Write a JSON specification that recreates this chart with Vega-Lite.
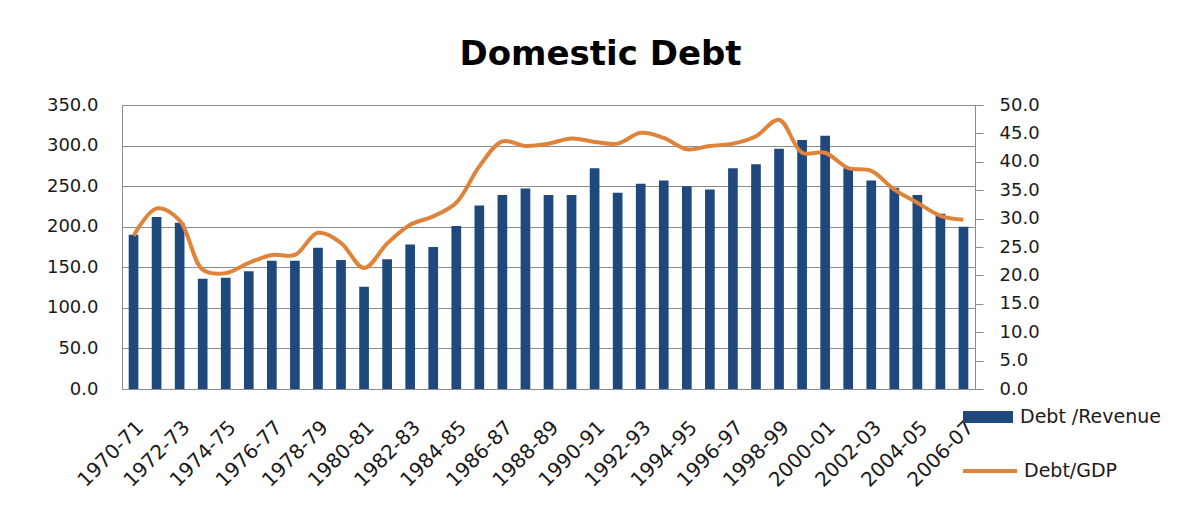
{
  "$schema": "https://vega.github.io/schema/vega-lite/v6.json",
  "autosize": {"type": "none"},
  "width": 853,
  "height": 284,
  "padding": {"left": 122, "top": 105, "right": 209, "bottom": 117},
  "background": "white",
  "title": {
    "text": "Domestic Debt",
    "font": "DejaVu Sans",
    "fontSize": 34,
    "fontWeight": "bold",
    "color": "#000000",
    "anchor": "middle",
    "offset": 24,
    "dx": 52
  },
  "config": {
    "view": {"stroke": "#8c8c8c", "strokeWidth": 1},
    "font": "DejaVu Sans",
    "axis": {
      "labelFont": "DejaVu Sans",
      "labelColor": "#1a1a1a",
      "labelFontSize": 18,
      "domainColor": "#8c8c8c",
      "tickColor": "#8c8c8c",
      "gridColor": "#8c8c8c",
      "title": null
    },
    "legend": {"padding": 0, "labelFont": "DejaVu Sans", "labelFontSize": 19, "labelColor": "#1a1a1a"}
  },
  "data": {
    "values": [
      {"year": "1970-71", "rev": 190, "gdp": 27.0},
      {"year": "1971-72", "rev": 212, "gdp": 31.8},
      {"year": "1972-73", "rev": 205, "gdp": 29.7},
      {"year": "1973-74", "rev": 136, "gdp": 21.0},
      {"year": "1974-75", "rev": 137, "gdp": 20.4},
      {"year": "1975-76", "rev": 145, "gdp": 22.2},
      {"year": "1976-77", "rev": 158, "gdp": 23.6},
      {"year": "1977-78", "rev": 158, "gdp": 23.6},
      {"year": "1978-79", "rev": 174, "gdp": 27.5},
      {"year": "1979-80", "rev": 159, "gdp": 25.7},
      {"year": "1980-81", "rev": 126, "gdp": 21.3},
      {"year": "1981-82", "rev": 160, "gdp": 25.6},
      {"year": "1982-83", "rev": 178, "gdp": 28.9},
      {"year": "1983-84", "rev": 175, "gdp": 30.4},
      {"year": "1984-85", "rev": 201, "gdp": 32.8},
      {"year": "1985-86", "rev": 226, "gdp": 39.2},
      {"year": "1986-87", "rev": 239, "gdp": 43.6},
      {"year": "1987-88", "rev": 247, "gdp": 42.8},
      {"year": "1988-89", "rev": 239, "gdp": 43.2},
      {"year": "1989-90", "rev": 239, "gdp": 44.1},
      {"year": "1990-91", "rev": 272, "gdp": 43.5},
      {"year": "1991-92", "rev": 242, "gdp": 43.2},
      {"year": "1992-93", "rev": 253, "gdp": 45.1},
      {"year": "1993-94", "rev": 257, "gdp": 44.2},
      {"year": "1994-95", "rev": 250, "gdp": 42.2},
      {"year": "1995-96", "rev": 246, "gdp": 42.8},
      {"year": "1996-97", "rev": 272, "gdp": 43.2},
      {"year": "1997-98", "rev": 277, "gdp": 44.5},
      {"year": "1998-99", "rev": 296, "gdp": 47.4},
      {"year": "1999-00", "rev": 307, "gdp": 41.6},
      {"year": "2000-01", "rev": 312, "gdp": 41.6},
      {"year": "2001-02", "rev": 272, "gdp": 38.9},
      {"year": "2002-03", "rev": 257, "gdp": 38.4},
      {"year": "2003-04", "rev": 248, "gdp": 35.1},
      {"year": "2004-05", "rev": 239, "gdp": 32.8},
      {"year": "2005-06", "rev": 216, "gdp": 30.5},
      {"year": "2006-07", "rev": 200, "gdp": 29.8}
    ]
  },
  "encoding": {
    "x": {
      "field": "year",
      "type": "nominal",
      "sort": null,
      "scale": {"paddingInner": 0.58, "paddingOuter": 0.29},
      "axis": {
        "labelAngle": -45,
        "labelFontSize": 20,
        "ticks": false,
        "labelPadding": 28,
        "values": ["1970-71","1972-73","1974-75","1976-77","1978-79","1980-81","1982-83","1984-85","1986-87","1988-89","1990-91","1992-93","1994-95","1996-97","1998-99","2000-01","2002-03","2004-05","2006-07"]
      }
    }
  },
  "layer": [
    {
      "mark": {"type": "bar"},
      "encoding": {
        "y": {
          "field": "rev",
          "type": "quantitative",
          "scale": {"domain": [0, 350], "nice": false},
          "axis": {
            "orient": "left",
            "values": [0, 50, 100, 150, 200, 250, 300, 350],
            "format": ".1f",
            "ticks": false,
            "labelPadding": 24,
            "grid": true
          }
        },
        "fill": {
          "datum": "Debt /Revenue",
          "type": "nominal",
          "scale": {"domain": ["Debt /Revenue"], "range": ["#1F497D"]},
          "legend": {
            "orient": "none",
            "legendX": 841,
            "legendY": 287,
            "title": null,
            "symbolType": "M-1,-0.24H1V0.24H-1Z",
            "symbolSize": 2500,
            "symbolStrokeWidth": 0,
            "labelOffset": 7
          }
        }
      }
    },
    {
      "mark": {"type": "line", "interpolate": "catmull-rom", "strokeWidth": 4},
      "encoding": {
        "y": {
          "field": "gdp",
          "type": "quantitative",
          "scale": {"domain": [0, 50], "nice": false},
          "axis": {
            "orient": "right",
            "values": [0, 5, 10, 15, 20, 25, 30, 35, 40, 45, 50],
            "format": ".1f",
            "grid": false,
            "tickSize": 8,
            "labelPadding": 16
          }
        },
        "stroke": {
          "datum": "Debt/GDP",
          "type": "nominal",
          "scale": {"domain": ["Debt/GDP"], "range": ["#E0833A"]},
          "legend": {
            "orient": "none",
            "legendX": 839,
            "legendY": 337,
            "title": null,
            "symbolType": "stroke",
            "symbolSize": 2916,
            "symbolStrokeWidth": 4,
            "labelOffset": 5
          }
        }
      }
    }
  ],
  "resolve": {"scale": {"y": "independent", "fill": "independent", "stroke": "independent"}}
}
